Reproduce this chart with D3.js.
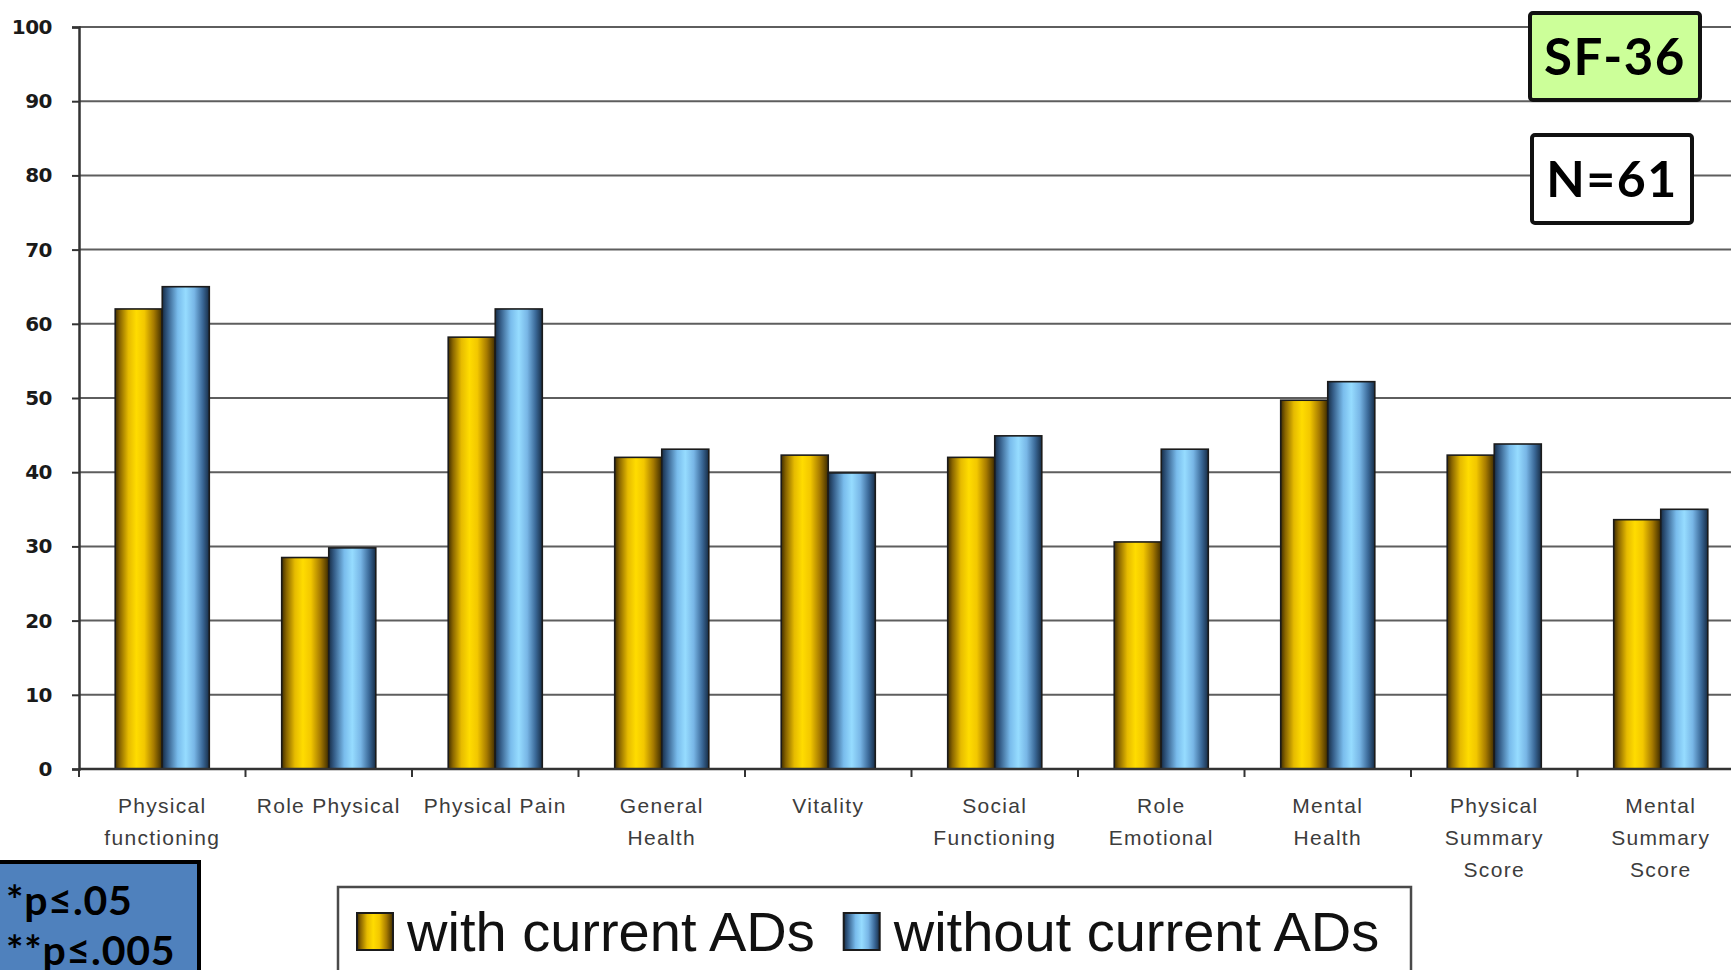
<!DOCTYPE html>
<html>
<head>
<meta charset="utf-8">
<script src="https://cdn.jsdelivr.net/npm/d3@7"></script>
<style>
  html, body { margin: 0; padding: 0; background: #ffffff; overflow: hidden; }
  svg { display: block; }
</style>
</head>
<body>
<svg id="chart" width="1731" height="970"></svg>
<script>
// SF-36 subscale scores, by antidepressant use
const categories = [
  "Physical functioning", "Role Physical", "Physical Pain", "General Health", "Vitality",
  "Social Functioning", "Role Emotional", "Mental Health", "Physical Summary Score", "Mental Summary Score"
];
const categoryLines = [
  ["Physical", "functioning"], ["Role Physical"], ["Physical Pain"], ["General", "Health"], ["Vitality"],
  ["Social", "Functioning"], ["Role", "Emotional"], ["Mental", "Health"], ["Physical", "Summary", "Score"], ["Mental", "Summary", "Score"]
];
const withADs    = [62.0, 28.5, 58.2, 42.0, 42.3, 42.0, 30.6, 49.7, 42.3, 33.6];
const withoutADs = [65.0, 29.8, 62.0, 43.1, 39.9, 44.9, 43.1, 52.2, 43.8, 35.0];
const seriesNames = ["with current ADs", "without current ADs"];
const yTicks = [0, 10, 20, 30, 40, 50, 60, 70, 80, 90, 100];
const noteLines = ["*p\u2264.05", "**p\u2264.005"];
const titleText = "SF-36";
const sampleText = "N=61";

const svg = d3.select("#chart");
const W = 1731, H = 970;

// plot frame
const plotLeft = 79, plotTop = 27, plotBottom = 769;
const step = 166.5;
const plotRight = plotLeft + step * categories.length; // runs past the page edge

const x = d3.scaleBand().domain(categories).range([plotLeft, plotRight])
  .paddingInner(0.435).paddingOuter(0.2175);
const xs = d3.scaleBand().domain([0, 1]).range([0, x.bandwidth()]);
const y = d3.scaleLinear().domain([0, 100]).range([plotBottom, plotTop]);

// gradients for cylinder-like shading of the bars
const defs = svg.append("defs");
function grad(id, stops) {
  const g = defs.append("linearGradient").attr("id", id)
    .attr("x1", "0%").attr("x2", "100%").attr("y1", "0%").attr("y2", "0%");
  stops.forEach(([o, c]) => g.append("stop").attr("offset", o).attr("stop-color", c));
}
grad("goldGrad", [[0, "#3f2d00"], [0.1, "#8a6600"], [0.28, "#e6bb00"], [0.45, "#ffdc00"], [0.62, "#f2c700"], [0.82, "#a67a00"], [1, "#3f2c00"]]);
grad("blueGrad", [[0, "#172d47"], [0.12, "#365f8a"], [0.33, "#79bcec"], [0.5, "#96dcff"], [0.68, "#78b6e6"], [0.86, "#3a6897"], [1, "#172d47"]]);
const fills = ["url(#goldGrad)", "url(#blueGrad)"];

// horizontal gridlines
svg.append("g").selectAll("line").data(yTicks.filter(d => d > 0)).join("line")
  .attr("x1", plotLeft).attr("x2", W)
  .attr("y1", d => y(d)).attr("y2", d => y(d))
  .attr("stroke", "#5e5e5e").attr("stroke-width", 2);

// y axis
const yAxis = svg.append("g").attr("transform", `translate(${plotLeft},0)`)
  .call(d3.axisLeft(y).tickValues(yTicks).tickSize(7).tickPadding(20));
yAxis.select(".domain").attr("stroke", "#333").attr("stroke-width", 2.5);
yAxis.selectAll(".tick line").attr("stroke", "#333").attr("stroke-width", 2);
yAxis.selectAll(".tick text")
  .attr("font-family", "'DejaVu Sans', sans-serif").attr("font-weight", "bold")
  .attr("font-size", 20).attr("fill", "#1a1a1a").attr("letter-spacing", -0.5);

// bars
const rows = categories.map((c, i) => ({ c, v: [withADs[i], withoutADs[i]] }));
const groups = svg.append("g").selectAll("g").data(rows).join("g")
  .attr("transform", d => `translate(${x(d.c)},0)`);
groups.selectAll("rect").data(d => d.v.map((v, k) => ({ v, k }))).join("rect")
  .attr("x", d => xs(d.k)).attr("width", xs.bandwidth())
  .attr("y", d => y(d.v)).attr("height", d => y(0) - y(d.v))
  .attr("fill", d => fills[d.k])
  .attr("stroke", "#1b1b1b").attr("stroke-width", 1.6);

// x axis baseline with ticks on category boundaries
svg.append("line").attr("x1", plotLeft).attr("x2", W).attr("y1", plotBottom).attr("y2", plotBottom)
  .attr("stroke", "#333").attr("stroke-width", 2.5);
const bounds = d3.range(categories.length + 1).map(i => plotLeft + i * x.step());
svg.append("g").selectAll("line").data(bounds).join("line")
  .attr("x1", d => d).attr("x2", d => d).attr("y1", plotBottom).attr("y2", plotBottom + 8)
  .attr("stroke", "#333").attr("stroke-width", 2);

// category labels
const lab = svg.append("g").selectAll("text").data(rows).join("text")
  .attr("x", d => x(d.c) + x.bandwidth() / 2).attr("y", 813)
  .attr("text-anchor", "middle")
  .attr("font-family", "'Liberation Sans', Arial, sans-serif")
  .attr("font-size", 21).attr("letter-spacing", 1.3).attr("fill", "#3c3c3c");
lab.each(function(d, i) {
  d3.select(this).selectAll("tspan").data(categoryLines[i]).join("tspan")
    .attr("x", x(d.c) + x.bandwidth() / 2)
    .attr("dy", (t, j) => j === 0 ? 0 : 32)
    .text(t => t);
});

// legend
const legX = 338, legY = 887;
svg.append("rect").attr("x", legX).attr("y", legY).attr("width", 1073).attr("height", 120)
  .attr("fill", "#fff").attr("stroke", "#4a4a4a").attr("stroke-width", 2.5);
let cursor = legX + 19;
seriesNames.forEach((name, k) => {
  svg.append("rect").attr("x", cursor).attr("y", legY + 26).attr("width", 36).attr("height", 37)
    .attr("fill", fills[k]).attr("stroke", "#1b1b1b").attr("stroke-width", 2);
  const t = svg.append("text").attr("x", cursor + 50).attr("y", legY + 64)
    .attr("font-family", "'Liberation Sans', Arial, sans-serif")
    .attr("font-size", 56).attr("fill", "#111").text(name);
  cursor += 50 + t.node().getComputedTextLength() + 29;
});

// significance note
svg.append("rect").attr("x", -2).attr("y", 862).attr("width", 201).attr("height", 140)
  .attr("fill", "#4f81bd").attr("stroke", "#000").attr("stroke-width", 4);
svg.append("g").selectAll("text").data(noteLines).join("text")
  .attr("x", 6).attr("y", (d, i) => 915 + i * 50)
  .attr("font-family", "Lato, 'Open Sans', sans-serif").attr("font-weight", "bold")
  .attr("font-size", 41).attr("letter-spacing", 0.8).attr("fill", "#000").text(d => d);

// instrument and sample size boxes
function labelBox(bx, by, bw, bh, fill, text, fs, baseline) {
  svg.append("rect").attr("x", bx).attr("y", by).attr("width", bw).attr("height", bh)
    .attr("rx", 3).attr("fill", fill).attr("stroke", "#111").attr("stroke-width", 4);
  svg.append("text").attr("x", bx + bw / 2).attr("y", baseline).attr("text-anchor", "middle")
    .attr("font-family", "Lato, 'Open Sans', sans-serif").attr("font-weight", "bold")
    .attr("font-size", fs).attr("letter-spacing", 1.5).attr("fill", "#000").text(text);
}
labelBox(1530, 13, 170, 87, "#ccff99", titleText, 51, 75);
labelBox(1532, 135, 160, 88, "#ffffff", sampleText, 50, 197);
</script>
</body>
</html>
